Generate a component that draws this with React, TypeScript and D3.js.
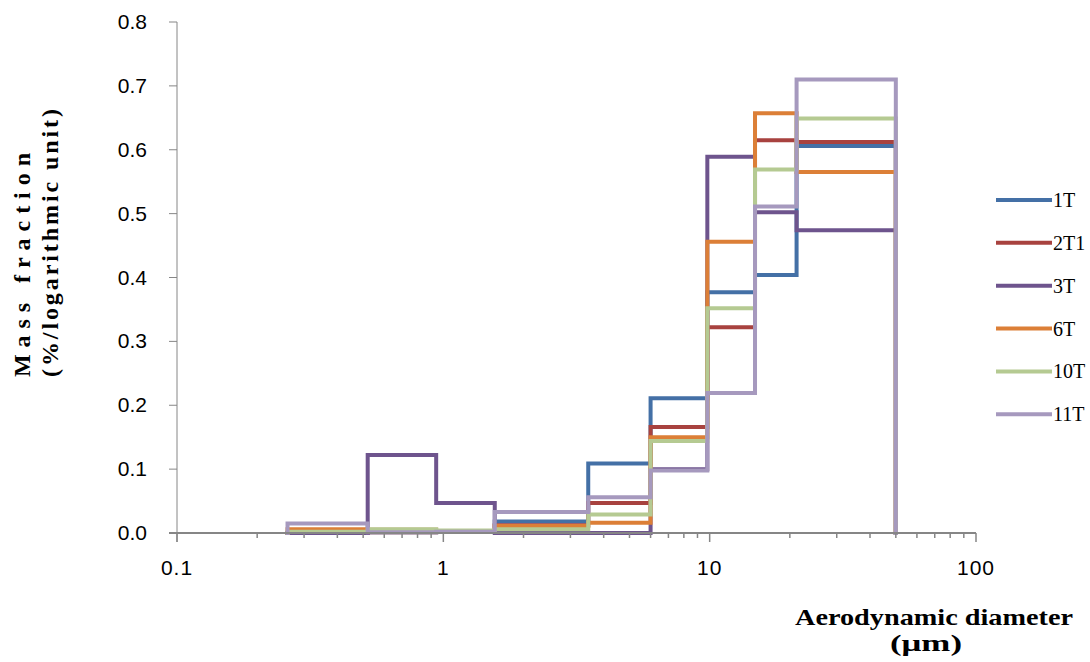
import React from "react";
import * as d3 from "d3";

// Bin edges (µm) of the cascade stages
const binEdges = [0.26, 0.52, 0.94, 1.56, 3.5, 6.0, 9.8, 14.8, 21.2, 50];

const seriesNames = ["1T", "2T1", "3T", "6T", "10T", "11T"];
const seriesColors = ["#4470A6", "#A8423F", "#6E548D", "#DC7F37", "#B5CA92", "#A699BE"];

const values1T = [0, 0.001, 0.002, 0.018, 0.109, 0.211, 0.377, 0.404, 0.606];
const values2T1 = [0, 0.001, 0.002, 0.012, 0.047, 0.166, 0.322, 0.615, 0.612];
const values3T = [0, 0.122, 0.047, 0, 0, 0.1, 0.589, 0.502, 0.474];
const values6T = [0.006, 0.005, 0.003, 0.011, 0.016, 0.15, 0.456, 0.657, 0.565];
const values10T = [0.002, 0.006, 0.004, 0.006, 0.029, 0.144, 0.352, 0.569, 0.649];
const values11T = [0.015, 0.001, 0.002, 0.033, 0.056, 0.098, 0.219, 0.511, 0.71];

const allValues = [values1T, values2T1, values3T, values6T, values10T, values11T];

const xTickValues = [0.1, 1, 10, 100];
const xTickLabels = ["0.1", "1", "10", "100"];
const yTickValues = [0, 0.1, 0.2, 0.3, 0.4, 0.5, 0.6, 0.7, 0.8];

const W = 1090;
const H = 662;

const serif = "Liberation Serif";
const sans = "Liberation Sans";

export default function App() {
  const x = d3.scaleLog().domain([0.1, 100]).range([177, 976]);
  const y = d3.scaleLinear().domain([0, 0.8]).range([533, 22]);

  const line = d3
    .line<[number, number]>()
    .x((d) => x(d[0]))
    .y((d) => y(d[1]))
    .curve(d3.curveStepAfter);

  const paths = allValues.map((vals) => {
    const pts: [number, number][] = [[binEdges[0], 0]];
    vals.forEach((v, i) => pts.push([binEdges[i], v]));
    pts.push([binEdges[binEdges.length - 1], 0]);
    return line(pts) as string;
  });

  // minor ticks for log axis
  const minorTicks: number[] = [];
  for (let dec = 0.1; dec < 100; dec *= 10) {
    for (let k = 2; k <= 9; k++) minorTicks.push(+(dec * k).toPrecision(3));
  }

  const axisColor = "#868686";
  const legendY = d3.scaleLinear().domain([0, 5]).range([200, 414.3]);

  const titleProps = {
    fontFamily: serif,
    fontSize: 24,
    fontWeight: "bold",
    fill: "#000",
    lengthAdjust: "spacing",
  } as const;

  return (
    <svg
      width={W}
      height={H}
      style={{ position: "absolute", left: 0, top: 0, background: "#fff" }}
    >
      <rect x={0} y={0} width={W} height={H} fill="#fff" />

      {/* Y axis */}
      <line x1={177} x2={177} y1={y(0.8)} y2={y(0) + 9} stroke={axisColor} strokeWidth={1} />
      {yTickValues.map((t) => (
        <g key={"yt" + t}>
          <line x1={169} x2={177} y1={y(t)} y2={y(t)} stroke={axisColor} strokeWidth={1} />
          <text
            x={147}
            y={y(t) + 7}
            textAnchor="end"
            fontFamily={sans}
            fontSize={21}
            fill="#000"
          >
            {t.toFixed(1)}
          </text>
        </g>
      ))}

      {/* series */}
      {paths.map((d, i) => (
        <path
          key={seriesNames[i]}
          d={d}
          fill="none"
          stroke={seriesColors[i]}
          strokeWidth={4}
          strokeLinejoin="miter"
          strokeLinecap="square"
        />
      ))}

      {/* X axis */}
      <line x1={169} x2={x(100)} y1={y(0)} y2={y(0)} stroke={axisColor} strokeWidth={2} />
      {xTickValues.map((t, i) => (
        <g key={"xt" + t}>
          <line x1={x(t)} x2={x(t)} y1={y(0)} y2={y(0) + 9} stroke={axisColor} strokeWidth={1.5} />
          <text
            x={x(t)}
            y={575}
            textAnchor="middle"
            fontFamily={sans}
            fontSize={21}
            letterSpacing={1}
            fill="#000"
          >
            {xTickLabels[i]}
          </text>
        </g>
      ))}
      {minorTicks.map((t) => (
        <line
          key={"mt" + t}
          x1={x(t)}
          x2={x(t)}
          y1={y(0)}
          y2={y(0) + 5}
          stroke={axisColor}
          strokeWidth={1.5}
        />
      ))}

      {/* Y title */}
      <g transform="translate(30,377) rotate(-90)">
        <text x={0} y={0} {...titleProps} textLength={224}>
          Mass fraction
        </text>
      </g>
      <g transform="translate(58,377) rotate(-90)">
        <text x={0} y={0} {...titleProps} textLength={268}>
          (%/logarithmic unit)
        </text>
      </g>

      {/* X title */}
      <text x={795} y={625} {...titleProps} textLength={278} lengthAdjust="spacingAndGlyphs">
        Aerodynamic diameter
      </text>
      <text x={890} y={651} {...titleProps} textLength={72} lengthAdjust="spacingAndGlyphs">
        (μm)
      </text>

      {/* Legend */}
      {seriesNames.map((name, i) => (
        <g key={"lg" + name}>
          <line
            x1={996}
            x2={1052}
            y1={legendY(i)}
            y2={legendY(i)}
            stroke={seriesColors[i]}
            strokeWidth={4}
          />
          <text
            x={1053}
            y={legendY(i) + 7}
            fontFamily={serif}
            fontSize={20}
            fill="#000"
          >
            {name}
          </text>
        </g>
      ))}
    </svg>
  );
}
